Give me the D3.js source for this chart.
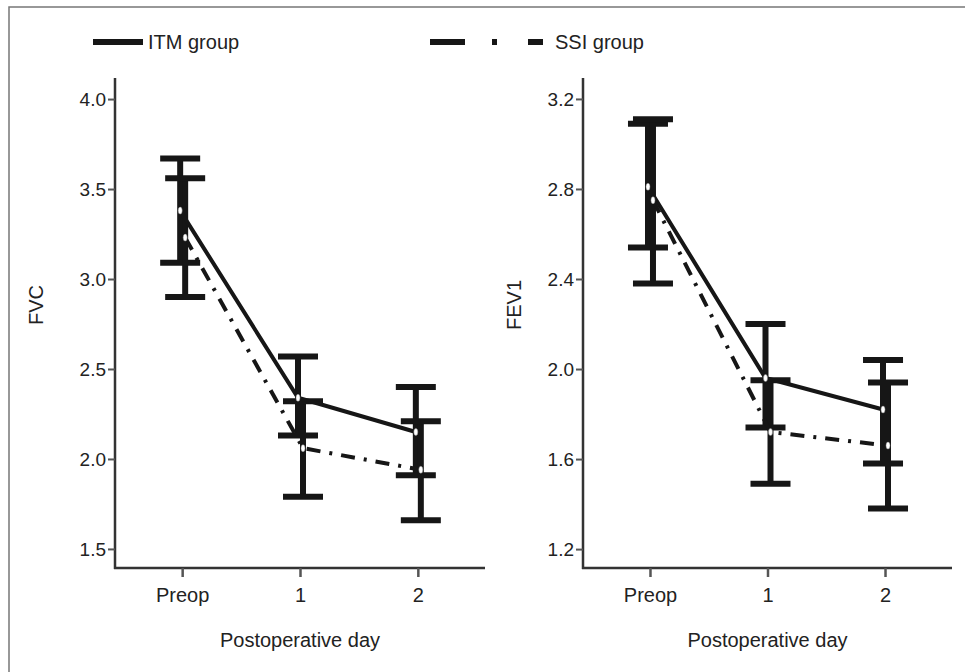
<!DOCTYPE html>
<html lang="en">
  <head>
    <meta charset="UTF-8" />
    <title>FVC / FEV1 - d3</title>
    <script src="https://d3js.org/d3.v7.min.js"></script>
  </head>
  <style>
    html,
    body {
      margin: 0;
      padding: 0;
      background: #fff;
    }
    svg text {
      font-family: "Liberation Sans", Arial, sans-serif;
      fill: #222;
    }
  </style>
  <body>
    <script>
      // data
      var days = ["Preop", "1", "2"];

      var itmFvcMean = [3.38, 2.34, 2.15];
      var itmFvcLow = [3.09, 2.13, 1.91];
      var itmFvcHigh = [3.67, 2.57, 2.4];
      var ssiFvcMean = [3.23, 2.06, 1.94];
      var ssiFvcLow = [2.9, 1.79, 1.66];
      var ssiFvcHigh = [3.56, 2.32, 2.21];

      var itmFev1Mean = [2.81, 1.96, 1.82];
      var itmFev1Low = [2.54, 1.74, 1.58];
      var itmFev1High = [3.09, 2.2, 2.04];
      var ssiFev1Mean = [2.75, 1.72, 1.66];
      var ssiFev1Low = [2.38, 1.49, 1.38];
      var ssiFev1High = [3.11, 1.95, 1.94];

      var fvcTicks = [1.5, 2.0, 2.5, 3.0, 3.5, 4.0];
      var fev1Ticks = [1.2, 1.6, 2.0, 2.4, 2.8, 3.2];

      var W = 965,
        H = 672;
      var ink = "#161616";
      var dashDot = "14,9,3,9";

      var svg = d3
        .select("body")
        .append("svg")
        .attr("width", W)
        .attr("height", H);

      // frame of the figure
      svg
        .append("rect")
        .attr("x", 9)
        .attr("y", 7)
        .attr("width", W)
        .attr("height", H)
        .attr("fill", "none")
        .attr("stroke", "#777")
        .attr("stroke-width", 1.5);

      // legend
      var leg = svg.append("g");
      leg
        .append("line")
        .attr("x1", 93).attr("x2", 143)
        .attr("y1", 42).attr("y2", 42)
        .attr("stroke", ink)
        .attr("stroke-width", 6);
      leg
        .append("text")
        .attr("x", 148)
        .attr("y", 49)
        .attr("font-size", 20)
        .text("ITM group");
      leg
        .append("line")
        .attr("x1", 430).attr("x2", 543)
        .attr("y1", 42).attr("y2", 42)
        .attr("stroke", ink)
        .attr("stroke-width", 6)
        .attr("stroke-dasharray", "35,27,5,31");
      leg
        .append("text")
        .attr("x", 555)
        .attr("y", 49)
        .attr("font-size", 20)
        .text("SSI group");

      function drawPanel(cfg) {
        var g = svg.append("g");

        var x = d3
          .scalePoint()
          .domain(days)
          .range([cfg.left, cfg.right])
          .padding(0.57);
        var y = d3
          .scaleLinear()
          .domain(cfg.domain)
          .range([568, 78]);

        // axes
        g.append("line")
          .attr("x1", cfg.left).attr("x2", cfg.left)
          .attr("y1", 78).attr("y2", 569)
          .attr("stroke", "#333")
          .attr("stroke-width", 2.5);
        g.append("line")
          .attr("x1", cfg.left - 1).attr("x2", cfg.right)
          .attr("y1", 568).attr("y2", 568)
          .attr("stroke", "#333")
          .attr("stroke-width", 2.5);

        var yAxis = d3
          .axisLeft(y)
          .tickValues(cfg.ticks)
          .tickSize(7)
          .tickPadding(2)
          .tickFormat(d3.format(".1f"));
        var ya = g
          .append("g")
          .attr("transform", "translate(" + cfg.left + ",0)")
          .call(yAxis);
        ya.select(".domain").remove();
        ya.selectAll("line").attr("stroke", "#555").attr("stroke-width", 2);
        ya.selectAll("text")
          .attr("font-size", 19)
          .attr("font-family", "Liberation Sans, Arial, sans-serif")
          .attr("fill", "#222");

        var xAxis = d3.axisBottom(x).tickSize(9).tickPadding(11);
        var xa = g
          .append("g")
          .attr("transform", "translate(0,568)")
          .call(xAxis);
        xa.select(".domain").remove();
        xa.selectAll("line").attr("stroke", "#555").attr("stroke-width", 2.5);
        xa.selectAll("text")
          .attr("font-size", 20)
          .attr("font-family", "Liberation Sans, Arial, sans-serif")
          .attr("fill", "#222");

        g.append("text")
          .attr("x", (cfg.left + cfg.right) / 2)
          .attr("y", 647)
          .attr("text-anchor", "middle")
          .attr("font-size", 20)
          .text("Postoperative day");

        g.append("text")
          .attr(
            "transform",
            "translate(" + (cfg.left + cfg.labelDx) + ",305) rotate(-90)"
          )
          .attr("text-anchor", "middle")
          .attr("font-size", 20)
          .text(cfg.label);

        var series = [
          { mean: cfg.itmMean, low: cfg.itmLow, high: cfg.itmHigh, dx: -2, dash: null },
          { mean: cfg.ssiMean, low: cfg.ssiLow, high: cfg.ssiHigh, dx: 3, dash: dashDot }
        ];

        // error bars
        series.forEach(function (s) {
          var eb = g
            .selectAll(null)
            .data(days)
            .enter()
            .append("g")
            .attr("transform", function (d) {
              return "translate(" + (x(d) + s.dx) + ",0)";
            });
          eb.append("line")
            .attr("x1", 0).attr("x2", 0)
            .attr("y1", function (d, i) { return y(s.high[i]); })
            .attr("y2", function (d, i) { return y(s.low[i]); })
            .attr("stroke", ink)
            .attr("stroke-width", 6);
          [s.high, s.low].forEach(function (arr) {
            eb.append("line")
              .attr("x1", -20).attr("x2", 20)
              .attr("y1", function (d, i) { return y(arr[i]); })
              .attr("y2", function (d, i) { return y(arr[i]); })
              .attr("stroke", ink)
              .attr("stroke-width", 6);
          });
        });

        // mean lines
        series.forEach(function (s) {
          var line = d3
            .line()
            .x(function (d, i) { return x(days[i]) + s.dx; })
            .y(function (d) { return y(d); });
          g.append("path")
            .datum(s.mean)
            .attr("d", line)
            .attr("fill", "none")
            .attr("stroke", ink)
            .attr("stroke-width", 4)
            .attr("stroke-dasharray", s.dash);
        });

        // small open markers at the means
        series.forEach(function (s) {
          g.selectAll(null)
            .data(s.mean)
            .enter()
            .append("ellipse")
            .attr("cx", function (d, i) { return x(days[i]) + s.dx; })
            .attr("cy", function (d) { return y(d); })
            .attr("rx", 2)
            .attr("ry", 3.5)
            .attr("fill", "#fff")
            .attr("stroke", "#888")
            .attr("stroke-width", 0.5);
        });
      }

      drawPanel({
        left: 115,
        right: 485,
        domain: [1.394, 4.117],
        ticks: fvcTicks,
        label: "FVC",
        labelDx: -72,
        itmMean: itmFvcMean, itmLow: itmFvcLow, itmHigh: itmFvcHigh,
        ssiMean: ssiFvcMean, ssiLow: ssiFvcLow, ssiHigh: ssiFvcHigh
      });

      drawPanel({
        left: 583,
        right: 952,
        domain: [1.116, 3.293],
        ticks: fev1Ticks,
        label: "FEV1",
        labelDx: -62,
        itmMean: itmFev1Mean, itmLow: itmFev1Low, itmHigh: itmFev1High,
        ssiMean: ssiFev1Mean, ssiLow: ssiFev1Low, ssiHigh: ssiFev1High
      });
    </script>
  </body>
</html>
